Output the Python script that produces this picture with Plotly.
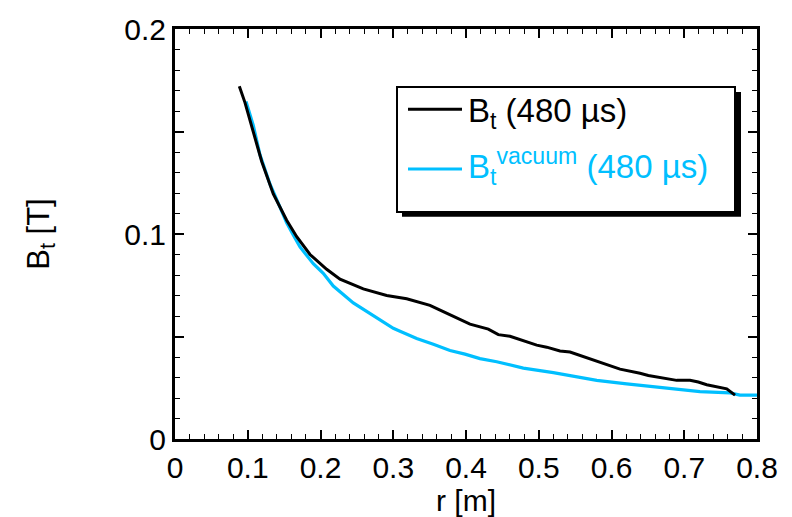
import plotly.graph_objects as go

# ---- data ----
r_bt = [0.0884, 0.0962, 0.1076, 0.1192, 0.1351, 0.1535, 0.1673, 0.1856, 0.2085, 0.2268,
        0.2588, 0.2910, 0.3185, 0.3344, 0.3505, 0.3688, 0.4055, 0.4307, 0.4444, 0.4605,
        0.4972, 0.5109, 0.5292, 0.5430, 0.5842, 0.6117, 0.6392, 0.6506, 0.6896, 0.7079,
        0.7193, 0.7309, 0.7584, 0.7698]
bt = [0.1721, 0.1641, 0.1498, 0.1354, 0.1195, 0.1067, 0.0987, 0.0900, 0.0828, 0.0780,
      0.0732, 0.0700, 0.0684, 0.0668, 0.0652, 0.0621, 0.0560, 0.0536, 0.0509, 0.0501,
      0.0458, 0.0448, 0.0429, 0.0424, 0.0373, 0.0341, 0.0321, 0.0310, 0.0286, 0.0286,
      0.0278, 0.0265, 0.0245, 0.0214]

r_vac = [0.0976, 0.1076, 0.1168, 0.1306, 0.1443, 0.1535, 0.1626, 0.1718, 0.1856, 0.1901,
         0.2038, 0.2176, 0.2451, 0.2726, 0.3001, 0.3093, 0.3322, 0.3551, 0.3780, 0.3986,
         0.4192, 0.4422, 0.4788, 0.5200, 0.5430, 0.5797, 0.6209, 0.6575, 0.6987, 0.7216,
         0.7629, 0.7766, 0.8000]
bt_vac = [0.1646, 0.1530, 0.1386, 0.1243, 0.1131, 0.1055, 0.0995, 0.0937, 0.0875, 0.0855,
          0.0808, 0.0746, 0.0664, 0.0600, 0.0540, 0.0526, 0.0490, 0.0462, 0.0432, 0.0414,
          0.0392, 0.0377, 0.0346, 0.0324, 0.0308, 0.0286, 0.0269, 0.0254, 0.0241, 0.0231,
          0.0225, 0.0214, 0.0214]

x_ticks = [0, 0.1, 0.2, 0.3, 0.4, 0.5, 0.6, 0.7, 0.8]
x_tick_labels = ["0", "0.1", "0.2", "0.3", "0.4", "0.5", "0.6", "0.7", "0.8"]
y_label_alias = {"0.05": " ", "0.15": " "}

name_bt = "B<sub>t</sub> (480 µs)"
name_vac = "B<sub>t</sub><sup>vacuum</sup> (480 µs)"

BLACK = "#000000"
CYAN = "#00BFFF"
FONT = "Liberation Sans"

# ---- layout geometry (pixels) ----
W, H = 792, 517
L, R, T, B = 175, 35, 25, 75
PW, PH = W - L - R, H - T - B


def px(xp):
    return (xp - L) / PW


def py(yp):
    return (H - B - yp) / PH


fig = go.Figure()
fig.add_trace(go.Scatter(x=r_vac, y=bt_vac, mode="lines", name=name_vac,
                         line=dict(color=CYAN, width=3.2), showlegend=False))
fig.add_trace(go.Scatter(x=r_bt, y=bt, mode="lines", name=name_bt,
                         line=dict(color=BLACK, width=3), showlegend=False))

axis_common = dict(
    showline=True, linecolor="black", linewidth=3, mirror="allticks",
    ticks="inside", ticklen=9, tickwidth=1.5, tickcolor="black",
    showgrid=False, zeroline=False,
    tickfont=dict(family=FONT, size=30, color="black"),
)

fig.update_xaxes(
    range=[0, 0.8], tickmode="array", tickvals=x_ticks, ticktext=x_tick_labels,
    minor=dict(ticks="inside", ticklen=5, tickwidth=1.2, tickcolor="black", dtick=0.02, tick0=0, showgrid=False),
    title=dict(text="r [m]", font=dict(family=FONT, size=30, color="black"), standoff=0),
    **axis_common,
)
fig.update_yaxes(
    range=[0, 0.2], tickmode="linear", tick0=0, dtick=0.05,
    labelalias=y_label_alias,
    minor=dict(ticks="inside", ticklen=5, tickwidth=1.2, tickcolor="black", dtick=0.01, tick0=0, showgrid=False),
    title=dict(text="B<sub>t</sub> [T]", font=dict(family=FONT, size=31, color="black"), standoff=66),
    **axis_common,
)

# ---- legend box drawn with shapes + annotations ----
shapes = [
    dict(type="rect", xref="paper", yref="paper", x0=px(402), x1=px(741), y0=py(216), y1=py(89),
         fillcolor="black", line=dict(width=0), layer="above"),
    dict(type="rect", xref="paper", yref="paper", x0=px(397), x1=px(735), y0=py(211), y1=py(84),
         fillcolor="white", line=dict(color="black", width=2), layer="above"),
    dict(type="line", xref="paper", yref="paper", x0=px(408), x1=px(462), y0=py(106.7), y1=py(106.7),
         line=dict(color=BLACK, width=3), layer="above"),
    dict(type="line", xref="paper", yref="paper", x0=px(408), x1=px(462), y0=py(167.3), y1=py(167.3),
         line=dict(color=CYAN, width=3), layer="above"),
]
annotations = [
    dict(xref="paper", yref="paper", x=px(466), y=py(110), xanchor="left", yanchor="middle",
         text=name_bt, showarrow=False, font=dict(family=FONT, size=33, color=BLACK)),
    dict(xref="paper", yref="paper", x=px(466), y=py(165), xanchor="left", yanchor="middle",
         text=name_vac, showarrow=False, font=dict(family=FONT, size=33, color=CYAN)),
]

fig.update_layout(
    width=W, height=H,
    margin=dict(l=L, r=R, t=T, b=B),
    paper_bgcolor="white", plot_bgcolor="white",
    shapes=shapes, annotations=annotations,
    showlegend=False,
    font=dict(family=FONT, color="black"),
)

fig.write_html("out.html")
